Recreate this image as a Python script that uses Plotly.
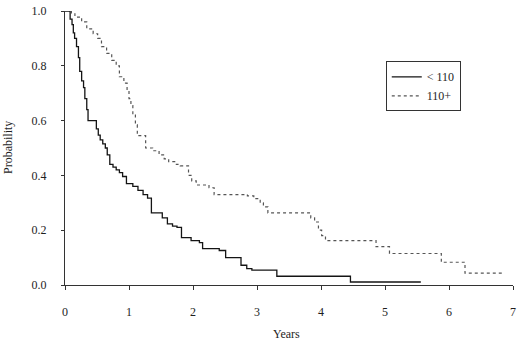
import plotly.graph_objects as go

# Kaplan-Meier step data (time in years, survival probability after the step)
t_lt110 = [0, 0.08, 0.11, 0.13, 0.15, 0.18, 0.21, 0.23, 0.26, 0.29, 0.31, 0.34, 0.36,
           0.49, 0.52, 0.55, 0.59, 0.63, 0.66, 0.70, 0.75, 0.80, 0.85, 0.90, 0.96,
           1.06, 1.14, 1.22, 1.29, 1.35, 1.52, 1.60, 1.68, 1.75, 1.82, 1.97, 2.10,
           2.15, 2.41, 2.51, 2.75, 2.84, 2.92, 3.02, 3.31, 4.46, 5.56]
s_lt110 = [1.0, 0.97, 0.95, 0.92, 0.90, 0.87, 0.83, 0.78, 0.745, 0.72, 0.68, 0.64, 0.60,
           0.57, 0.547, 0.53, 0.515, 0.50, 0.475, 0.44, 0.43, 0.42, 0.41, 0.396,
           0.37, 0.36, 0.345, 0.33, 0.317, 0.263, 0.245, 0.223, 0.215, 0.21, 0.173,
           0.162, 0.155, 0.133, 0.126, 0.10, 0.072, 0.06, 0.054, 0.054, 0.032,
           0.011, 0.011]

t_110p = [0, 0.10, 0.155, 0.26, 0.34, 0.44, 0.51, 0.57, 0.65, 0.73, 0.80, 0.85, 0.92,
          0.97, 1.00, 1.03, 1.06, 1.10, 1.13, 1.26, 1.37, 1.47, 1.55, 1.62, 1.74,
          1.80, 1.93, 1.98, 2.05, 2.25, 2.33, 2.85, 2.95, 3.05, 3.10, 3.17, 3.84,
          3.90, 3.96, 4.01, 4.07, 4.86, 5.07, 5.88, 6.25, 6.86]
s_110p = [1.0, 0.99, 0.978, 0.96, 0.935, 0.917, 0.90, 0.87, 0.845, 0.82, 0.80, 0.76,
          0.737, 0.71, 0.68, 0.655, 0.62, 0.585, 0.545, 0.50, 0.49, 0.475, 0.46,
          0.45, 0.44, 0.435, 0.40, 0.38, 0.365, 0.355, 0.33, 0.325, 0.315, 0.30,
          0.285, 0.263, 0.245, 0.23, 0.20, 0.18, 0.162, 0.14, 0.115, 0.083, 0.043,
          0.043]

series_names = ["< 110", "110+"]
x_ticks = [0, 1, 2, 3, 4, 5, 6, 7]
y_ticks = [0.0, 0.2, 0.4, 0.6, 0.8, 1.0]
y_tick_labels = ["0.0", "0.2", "0.4", "0.6", "0.8", "1.0"]

FONT = "Liberation Serif"
TXT = "#1e1e1e"

fig = go.Figure()
fig.add_trace(go.Scatter(
    x=t_lt110, y=s_lt110, mode="lines", line_shape="hv", name=series_names[0],
    line=dict(color="#141414", width=1.3), cliponaxis=False))
fig.add_trace(go.Scatter(
    x=t_110p, y=s_110p, mode="lines", line_shape="hv", name=series_names[1],
    line=dict(color="#555555", width=1.2, dash="dot"), cliponaxis=False))

fig.update_layout(
    width=520, height=343,
    margin=dict(l=65, r=4, t=7, b=58),
    paper_bgcolor="white", plot_bgcolor="white",
    font=dict(family=FONT, size=12, color=TXT),
    showlegend=True,
    legend=dict(
        x=0.716, y=0.8165, xanchor="left", yanchor="top",
        bordercolor="#333333", borderwidth=1, bgcolor="white",
        font=dict(family=FONT, size=12, color=TXT),
        tracegroupgap=0, itemwidth=30,
    ),
    xaxis=dict(
        range=[0, 7], tickvals=x_ticks, ticktext=[str(v) for v in x_ticks],
        showgrid=False, zeroline=False, showline=True, linecolor="#333333",
        linewidth=1, ticks="outside", ticklen=4, tickcolor="#333333",
        ticklabelstandoff=12,
    ),
    yaxis=dict(
        range=[0, 1], tickvals=y_ticks, ticktext=y_tick_labels,
        showgrid=False, zeroline=False, showline=True, linecolor="#333333",
        linewidth=1, ticks="outside", ticklen=3, tickcolor="#333333",
        ticklabelstandoff=12,
    ),
    annotations=[
        dict(text="Probability", xref="paper", yref="paper", x=0, y=0.5,
             xanchor="center", yanchor="middle", xshift=-57, textangle=-90,
             showarrow=False, font=dict(family=FONT, size=12, color=TXT)),
        dict(text="Years", xref="paper", yref="paper", x=0.494, y=0,
             xanchor="center", yanchor="middle", yshift=-49,
             showarrow=False, font=dict(family=FONT, size=12, color=TXT)),
    ],
)

fig.write_html(
    "out.html",
    config={"displayModeBar": False},
    post_script="document.body.style.margin='0px';document.body.style.overflow='hidden';",
)
